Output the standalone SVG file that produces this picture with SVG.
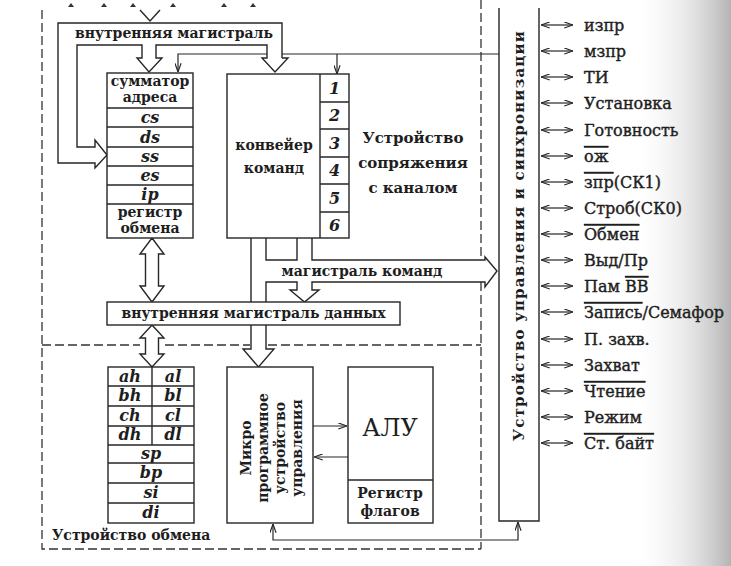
<svg xmlns="http://www.w3.org/2000/svg" width="731" height="566" viewBox="0 0 731 566">
<style>
.ln{fill:none;stroke:#262626;stroke-width:1.4}
.box{fill:#fff;stroke:#262626;stroke-width:1.4}
.pipe{fill:#fff;stroke:#262626;stroke-width:1.4;stroke-linejoin:miter}
.dash{fill:none;stroke:#333;stroke-width:1.3;stroke-dasharray:9,4}
.thin{fill:none;stroke:#262626;stroke-width:1.2}
.t{font-family:"DejaVu Serif","Liberation Serif",serif;font-weight:bold;fill:#1e1e1e;text-anchor:middle}
.i{font-family:"DejaVu Serif","Liberation Serif",serif;font-weight:bold;font-style:italic;fill:#1e1e1e;text-anchor:middle;font-size:16px}
.s{font-family:"DejaVu Serif","Liberation Serif",serif;font-weight:normal;fill:#1e1e1e;stroke:#1e1e1e;stroke-width:0.4;font-size:16px}
.ov{text-decoration:overline}
</style>
<defs>
<marker id="ah" viewBox="0 0 10 8" refX="10" refY="4" markerWidth="9" markerHeight="7" markerUnits="userSpaceOnUse" orient="auto-start-reverse">
<path d="M0,0.5 L10,4 L0,7.5" fill="none" stroke="#262626" stroke-width="1.3"/>
</marker>
<linearGradient id="shade" x1="0" y1="0" x2="1" y2="0">
<stop offset="0" stop-color="#fff" stop-opacity="0"/>
<stop offset="1" stop-color="#b4b4b4"/>
</linearGradient>
</defs>
<rect width="731" height="566" fill="#fff"/>
<rect x="630" y="0" width="101" height="566" fill="url(#shade)"/>

<g id="frame">
<path class="dash" d="M42,10 V549 H481"/>
<path class="dash" d="M481,0 V260 M481,282 V549"/>
<path class="dash" d="M42,345 H140 M165,345 H250 M268,345 H481"/>
<path fill="#333" d="M68,7 L71,3 L74,7 Z M101,7 L104,3 L107,7 Z M130,7 L133,3 L136,7 Z M170,7 L173,3 L176,7 Z M221,7 L224,3 L227,7 Z M250,7 L253,3 L256,7 Z"/>
</g>

<g id="connectors">
<polyline class="ln" points="140,10 150,21 160,10"/>
<path class="ln" d="M282,58 V23 H58 V163 H95 V168 L107,155 L95,140 V147 H77 V45 H142 V58 H137 L149,72 L162,58 H156 V45 H267 V58 H262 L275,72 L288,58 H282"/>
<path class="thin" d="M267,54 H178 V72" marker-end="url(#ah)"/>
<path class="thin" d="M282,54 H499"/>
<path class="thin" d="M337,54 V74" marker-end="url(#ah)"/>
<path class="pipe" d="M152,238 L164,254 H158.5 V286 H164 L152,302 L140,286 H145.5 V254 H140 Z"/>
<path class="pipe" d="M152,325 L164,338 H158.5 V354 H164 L152,367 L140,354 H145.5 V338 H140 Z"/>
<path class="ln" d="M251,238 V349 H243 L258.5,367 L274,349 H266 V282 H297 V290 H290 L304.5,302 L319,290 H312 V282 H485 V287 L497,271 L485,257 V260 H312 V238 M297,238 V260 H266 V238"/>
<path class="thin" d="M313,426 H347" marker-end="url(#ah)"/>
<path class="thin" d="M348,457 H314" marker-end="url(#ah)"/>
<path class="thin" d="M273,524 V540 H518 V522" marker-start="url(#ah)" marker-end="url(#ah)"/>
</g>

<g id="bus-label">
<text class="t" x="174" y="38" font-size="14">внутренняя магистраль</text>
</g>

<g id="addr-stack">
<rect class="box" x="107" y="73" width="86" height="165"/>
<path class="ln" d="M107,108 H193 M107,127 H193 M107,147 H193 M107,166 H193 M107,185 H193 M107,204 H193"/>
<text class="t" x="150" y="86" font-size="14">сумматор<tspan x="150" dy="16">адреса</tspan></text>
<text class="i" x="150" y="123">cs</text>
<text class="i" x="150" y="143">ds</text>
<text class="i" x="150" y="162">ss</text>
<text class="i" x="150" y="181">es</text>
<text class="i" x="150" y="200">ip</text>
<text class="t" x="150" y="217" font-size="14">регистр<tspan x="150" dy="16">обмена</tspan></text>
</g>

<g id="conveyor">
<rect class="box" x="227" y="74" width="122" height="164"/>
<path class="ln" d="M320,74 V238 M320,102 H349 M320,129 H349 M320,157 H349 M320,184 H349 M320,212 H349"/>
<text class="t" x="274" y="150" font-size="14">конвейер<tspan x="274" dy="23">команд</tspan></text>
<text class="i" x="334.5" y="94">1</text>
<text class="i" x="334.5" y="121">2</text>
<text class="i" x="334.5" y="149">3</text>
<text class="i" x="334.5" y="176">4</text>
<text class="i" x="334.5" y="204">5</text>
<text class="i" x="334.5" y="231">6</text>
</g>

<g id="channel-unit-label">
<text class="t" x="413" y="143" font-size="15">Устройство<tspan x="413" dy="25">сопряжения</tspan><tspan x="413" dy="25">с каналом</tspan></text>
</g>

<g id="cmd-bus-label">
<text class="t" x="362" y="276" font-size="14">магистраль команд</text>
</g>

<g id="data-bus">
<rect class="box" x="107" y="302" width="293" height="23"/>
<text class="t" x="253.5" y="318" font-size="14">внутренняя магистраль данных</text>
</g>

<g id="regfile">
<rect class="box" x="108" y="367" width="86" height="156"/>
<path class="ln" d="M152,367 V445 M108,386 H194 M108,406 H194 M108,426 H194 M108,445 H194 M108,463 H194 M108,483 H194 M108,503 H194"/>
<text class="i" x="130" y="382">ah</text><text class="i" x="173" y="382">al</text>
<text class="i" x="130" y="401">bh</text><text class="i" x="173" y="401">bl</text>
<text class="i" x="130" y="421">ch</text><text class="i" x="173" y="421">cl</text>
<text class="i" x="130" y="440">dh</text><text class="i" x="173" y="440">dl</text>
<text class="i" x="151" y="459">sp</text>
<text class="i" x="151" y="478">bp</text>
<text class="i" x="151" y="498">si</text>
<text class="i" x="151" y="518">di</text>
</g>

<g id="exchange-label">
<text class="t" x="52" y="540" font-size="14" style="text-anchor:start">Устройство обмена</text>
</g>

<g id="mpu">
<rect class="box" x="227" y="367" width="86" height="156"/>
<text class="t" font-size="14" transform="translate(270,448) rotate(-90)"><tspan x="0" y="-19">Микро</tspan><tspan x="0" y="-2">программное</tspan><tspan x="0" y="15">устройство</tspan><tspan x="0" y="32">управления</tspan></text>
</g>

<g id="alu">
<rect class="box" x="348" y="367" width="85" height="156"/>
<path class="ln" d="M348,480 H433"/>
<text class="t" x="390" y="436" font-size="24" style="font-weight:normal">АЛУ</text>
<text class="t" x="390" y="498" font-size="14">Регистр<tspan x="390" dy="18">флагов</tspan></text>
</g>

<g id="control-unit">
<path class="ln" d="M499,8 V521 H539 V8"/>
<text class="t" font-size="15" transform="translate(519,236) rotate(-90)" dy="0.35em" textLength="410" lengthAdjust="spacing">Устройство управления и синхронизации</text>
</g>

<g id="signals" class="thin">
<path d="M541,25 H573" marker-start="url(#ah)" marker-end="url(#ah)"/>
<path d="M541,51 H573" marker-start="url(#ah)" marker-end="url(#ah)"/>
<path d="M541,77 H573" marker-start="url(#ah)" marker-end="url(#ah)"/>
<path d="M541,103 H573" marker-start="url(#ah)" marker-end="url(#ah)"/>
<path d="M541,130 H573" marker-start="url(#ah)" marker-end="url(#ah)"/>
<path d="M541,156 H573" marker-start="url(#ah)" marker-end="url(#ah)"/>
<path d="M541,182 H573" marker-start="url(#ah)" marker-end="url(#ah)"/>
<path d="M541,208 H573" marker-start="url(#ah)" marker-end="url(#ah)"/>
<path d="M541,234 H573" marker-start="url(#ah)" marker-end="url(#ah)"/>
<path d="M541,260 H573" marker-start="url(#ah)" marker-end="url(#ah)"/>
<path d="M541,286 H573" marker-start="url(#ah)" marker-end="url(#ah)"/>
<path d="M541,312 H573" marker-start="url(#ah)" marker-end="url(#ah)"/>
<path d="M541,339 H573" marker-start="url(#ah)" marker-end="url(#ah)"/>
<path d="M541,365 H573" marker-start="url(#ah)" marker-end="url(#ah)"/>
<path d="M541,391 H573" marker-start="url(#ah)" marker-end="url(#ah)"/>
<path d="M541,417 H573" marker-start="url(#ah)" marker-end="url(#ah)"/>
<path d="M541,443 H573" marker-start="url(#ah)" marker-end="url(#ah)"/>
<text class="s" x="584" y="31">изпр</text>
<text class="s" x="584" y="57">мзпр</text>
<text class="s" x="584" y="83">ТИ</text>
<text class="s" x="584" y="109">Установка</text>
<text class="s" x="584" y="136">Готовность</text>
<text class="s" x="584" y="162"><tspan class="ov">ож</tspan></text>
<text class="s" x="584" y="188"><tspan class="ov">зпр</tspan>(СК1)</text>
<text class="s" x="584" y="214">Строб(СК0)</text>
<text class="s" x="584" y="240"><tspan class="ov">Обмен</tspan></text>
<text class="s" x="584" y="266">Выд/Пр</text>
<text class="s" x="584" y="292">Пам <tspan class="ov">ВВ</tspan></text>
<text class="s" x="584" y="318"><tspan class="ov">Запись</tspan>/Семафор</text>
<text class="s" x="584" y="345">П. захв.</text>
<text class="s" x="584" y="371">Захват</text>
<text class="s" x="584" y="397"><tspan class="ov">Чтение</tspan></text>
<text class="s" x="584" y="423">Режим</text>
<text class="s" x="584" y="449"><tspan class="ov">Ст. байт</tspan></text>
</g>
</svg>
